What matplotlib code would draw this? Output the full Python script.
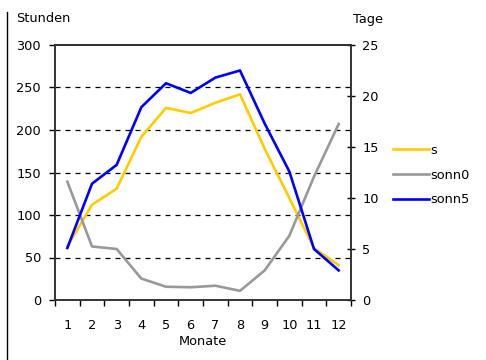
import numpy as np
import matplotlib
matplotlib.use("Agg")
import matplotlib.pyplot as plt
from matplotlib.lines import Line2D

plt.rcParams['font.family'] = ['DejaVu Sans']
plt.rcParams['font.size'] = 9.3

# ---- Daten ----
monate = [1, 2, 3, 4, 5, 6, 7, 8, 9, 10, 11, 12]
s = [63, 112, 131, 192, 226, 220, 232, 242, 178, 120, 61, 41]          # Stunden
sonn0 = [11.6, 5.25, 5.0, 2.1, 1.3, 1.25, 1.4, 0.9, 2.9, 6.3, 12.1, 17.25]  # Tage
sonn5 = [5.1, 11.4, 13.25, 18.9, 21.25, 20.3, 21.8, 22.5, 17.3, 12.6, 5.0, 2.9]  # Tage
stunden_ticks = [0, 50, 100, 150, 200, 250, 300]
tage_ticks = [0, 5, 10, 15, 20, 25]

W, H = 486, 360
fig = plt.figure(figsize=(W / 100, H / 100), dpi=100)
ax = fig.add_axes([55 / W, 1 - 300 / H, (351 - 55) / W, (300 - 45) / H])
ax2 = ax.twinx()

# gestrichelte Gitterlinien
for v in stunden_ticks[1:-1]:
    ax.axhline(v, color='black', lw=0.9, ls=(0, (4, 4)), zorder=1)

ax.plot(monate, s, color='#FFCC00', lw=1.9, label='s', zorder=3)
ax2.plot(monate, sonn0, color='#999999', lw=1.9, label='sonn0')
ax2.plot(monate, sonn5, color='#0000FF', lw=1.9, label='sonn5')

ax.set_xlim(0.5, 12.5)
ax.set_ylim(0, 300)
ax2.set_ylim(0, 25)
ax.set_yticks(stunden_ticks)
ax2.set_yticks(tage_ticks)
ax.set_xticks(monate)
ax.set_xticks(np.arange(0.5, 13, 1), minor=True)
ax.tick_params(axis='x', which='major', length=0, pad=14)
ax.tick_params(axis='x', which='minor', length=4, width=1, direction='out')
ax.tick_params(axis='y', length=4, width=1, pad=6, direction='out')
ax2.tick_params(axis='y', length=6, width=1, pad=5, direction='inout')

for a in (ax, ax2):
    for sp in a.spines.values():
        sp.set_color('#333333')
        sp.set_linewidth(1.2)
ax.spines['top'].set_color('black')

ax.set_xlabel('Monate', labelpad=2)
fig.text(16 / W, 1 - 19 / H, 'Stunden', ha='left', va='center')
fig.text(353 / W, 1 - 19 / H, 'Tage', ha='left', va='center')

# Legende
h1, l1 = ax.get_legend_handles_labels()
h2, l2 = ax2.get_legend_handles_labels()
fig.legend(h1 + h2, l1 + l2, loc='center left', bbox_to_anchor=(393 / W, 1 - 175 / H),
           frameon=False, handlelength=2.75, handletextpad=0.1, labelspacing=0.9,
           borderpad=0, borderaxespad=0)

# linker Rahmen
fig.add_artist(Line2D([7 / W, 7 / W], [0, 1 - 12 / H], color='black', lw=1.0))

fig.savefig('out.png', dpi=100)
